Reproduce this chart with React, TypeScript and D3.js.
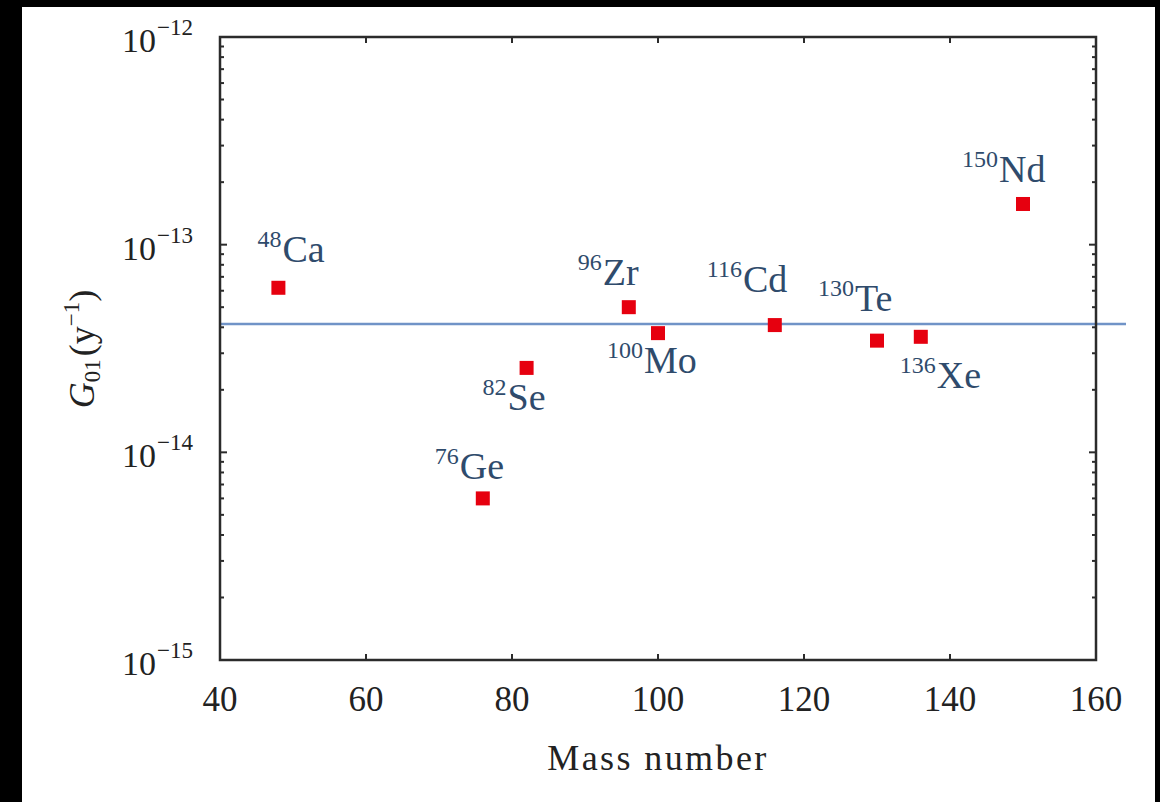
import React from "react";
import * as d3 from "d3";

// Phase-space factors G01 for double-beta-decay candidate nuclei
const elements = ["Ca", "Ge", "Se", "Zr", "Mo", "Cd", "Te", "Xe", "Nd"];
const massNumbers = [48, 76, 82, 96, 100, 116, 130, 136, 150];
const g01 = [6.2e-14, 6.0e-15, 2.55e-14, 5.0e-14, 3.75e-14, 4.1e-14, 3.45e-14, 3.6e-14, 1.57e-13];
const referenceG01 = 4.15e-14;

const xTicks = [40, 60, 80, 100, 120, 140, 160];
const yDecades = [-15, -14, -13, -12];

// label placement relative to each marker (px)
const labelOffset: Record<string, [number, number]> = {
  Ca: [-21, -26],
  Ge: [-48, -19],
  Se: [-44, 42],
  Zr: [-51, -22],
  Mo: [-51, 40],
  Cd: [-68, -33],
  Te: [-59, -30],
  Xe: [-21, 51],
  Nd: [-61, -22],
};

const W = 1160;
const H = 802;
const plot = { left: 220, right: 1096, top: 37, bottom: 660 };
const FONT = "'Liberation Serif', 'Times New Roman', serif";
const AXIS = "#2b2b2b";
const LABEL = "#2f4b6c";

export default function App() {
  const x = d3.scaleLinear().domain([40, 160]).range([plot.left, plot.right]);
  const y = d3.scaleLog().domain([1e-15, 1e-12]).range([plot.bottom, plot.top]);

  const minor: number[] = [];
  yDecades.slice(0, -1).forEach((e) => {
    for (let k = 2; k <= 9; k++) minor.push(k * Math.pow(10, e));
  });

  const sq = 14;

  return (
    <svg
      width={W}
      height={H}
      style={{ position: "absolute", left: 0, top: 0, display: "block" }}
      fontFamily={FONT}
    >
      <rect x={0} y={0} width={W} height={H} fill="#000" />
      <rect x={22} y={7} width={1133} height={H - 7} fill="#fff" />

      {/* reference level */}
      <line
        x1={plot.left}
        x2={1126}
        y1={y(referenceG01)}
        y2={y(referenceG01)}
        stroke="#7093c7"
        strokeWidth={2.5}
      />

      {/* frame */}
      <rect
        x={plot.left}
        y={plot.top}
        width={plot.right - plot.left}
        height={plot.bottom - plot.top}
        fill="none"
        stroke={AXIS}
        strokeWidth={2.5}
      />

      {/* x ticks, top and bottom, inward */}
      {xTicks.map((t) => (
        <g key={`xt${t}`}>
          <line x1={x(t)} x2={x(t)} y1={plot.bottom} y2={plot.bottom - 6} stroke={AXIS} strokeWidth={2} />
          <line x1={x(t)} x2={x(t)} y1={plot.top} y2={plot.top + 6} stroke={AXIS} strokeWidth={2} />
          <text x={x(t)} y={711} fontSize={35} textAnchor="middle" fill="#222">
            {t}
          </text>
        </g>
      ))}

      {/* y major ticks and labels */}
      {yDecades.map((e) => {
        const v = Math.pow(10, e);
        return (
          <g key={`yt${e}`}>
            <line x1={plot.left} x2={plot.left + 7} y1={y(v)} y2={y(v)} stroke={AXIS} strokeWidth={2} />
            <line x1={plot.right} x2={plot.right - 7} y1={y(v)} y2={y(v)} stroke={AXIS} strokeWidth={2} />
            <text x={122} y={y(v) + 15} fontSize={34} fill="#222">
              10
              <tspan fontSize={23} dy={-17} dx={1}>
                {"\u2212" + Math.abs(e)}
              </tspan>
            </text>
          </g>
        );
      })}

      {/* y minor ticks */}
      {minor.map((v, i) => (
        <g key={`ym${i}`}>
          <line x1={plot.left} x2={plot.left + 4} y1={y(v)} y2={y(v)} stroke={AXIS} strokeWidth={2} />
          <line x1={plot.right} x2={plot.right - 4} y1={y(v)} y2={y(v)} stroke={AXIS} strokeWidth={2} />
        </g>
      ))}

      {/* axis titles */}
      <text x={658} y={770} fontSize={36} textAnchor="middle" fill="#222" letterSpacing={2.4}>
        Mass number
      </text>
      <text transform="translate(94,349) rotate(-90)" fontSize={36} textAnchor="middle" fill="#222">
        <tspan fontStyle="italic">G</tspan>
        <tspan fontSize={23} dy={6}>01</tspan>
        <tspan dy={-6} dx={3}>(y</tspan>
        <tspan fontSize={23} dy={-15}>{"\u22121"}</tspan>
        <tspan dy={15}>)</tspan>
      </text>

      {/* data markers and isotope labels */}
      {elements.map((el, i) => {
        const px = x(massNumbers[i]);
        const py = y(g01[i]);
        const [dx, dy] = labelOffset[el];
        return (
          <g key={el}>
            <rect x={px - sq / 2} y={py - sq / 2} width={sq} height={sq} fill="#e6000f" />
            <text x={px + dx} y={py + dy} fill={LABEL} fontSize={38}>
              <tspan fontSize={24} dy={-15}>{massNumbers[i]}</tspan>
              <tspan dy={15} dx={1}>{el}</tspan>
            </text>
          </g>
        );
      })}
    </svg>
  );
}
